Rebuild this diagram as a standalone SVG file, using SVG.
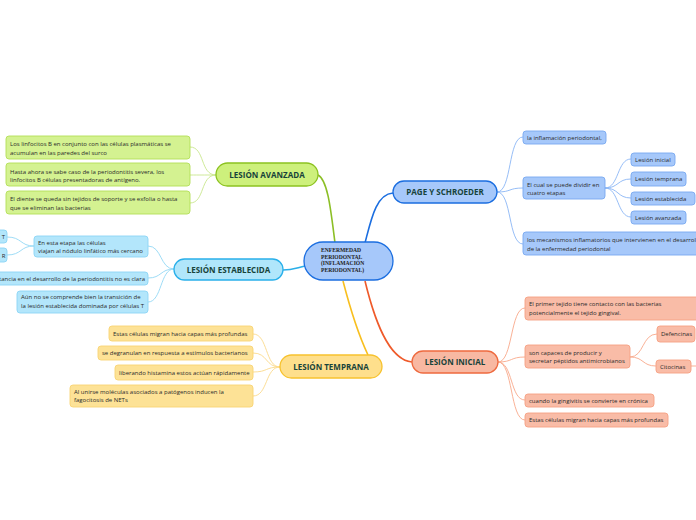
<svg xmlns="http://www.w3.org/2000/svg" width="696" height="520" viewBox="0 0 696 520">
<style>
text{font-family:"Open Sans","Noto Sans","Liberation Sans",sans-serif;fill:#2a2a2a;font-size:6px}
.t{font-weight:bold;font-size:8px;fill:#17433a;text-anchor:middle}
.c{font-family:"Liberation Serif","DejaVu Serif",serif;font-weight:bold;font-size:5.6px;fill:#222}
.main{fill:none;stroke-width:1.6}
.sub{fill:none;stroke-width:0.9}
.bl{fill:#a6c8fa;stroke:#1b6ee0;stroke-width:1.3}
.blc{fill:#a6c8fa;stroke:#78a8f0;stroke-width:0.9}
.gr{fill:#cdf07c;stroke:#8cc220;stroke-width:1.3}
.grc{fill:#d4f291;stroke:#b3df58;stroke-width:0.9}
.cy{fill:#b0e6fb;stroke:#2ab0ea;stroke-width:1.3}
.cyc{fill:#b3e6fb;stroke:#8cd5f5;stroke-width:0.9}
.ye{fill:#fedf8c;stroke:#f7c22e;stroke-width:1.3}
.yec{fill:#fde296;stroke:#f8d474;stroke-width:0.9}
.re{fill:#f8b8a2;stroke:#ee6a3f;stroke-width:1.3}
.rec{fill:#f9bca7;stroke:#f5a083;stroke-width:0.9}
</style>
<g id="connectors">
<path class="main" stroke="#8cbf26" d="M318,175 C328,180 331,212 335,243"/>
<path class="main" stroke="#1b6ee0" d="M393,193 C376,194 371,220 365,243"/>
<path class="main" stroke="#2aaee8" d="M283,270 C292,270 296,268 305,266"/>
<path class="main" stroke="#f8bf1f" d="M343,281 C350,308 360,338 368,355"/>
<path class="main" stroke="#ef5a2a" d="M365,281 C374,318 388,360 412,362"/>
<g stroke="#c8e68c" class="sub">
<path d="M216,175 C200,175 205,147 190,147"/>
<path d="M216,175 C203,175 200,175 190,175"/>
<path d="M216,175 C200,175 205,203 190,203"/>
</g>
<g stroke="#93d8f5" class="sub">
<path d="M174,269 C160,269 162,246 148,246"/>
<path d="M174,269 C160,269 162,278 148,278"/>
<path d="M174,269 C160,269 162,302 148,302"/>
<path d="M34,246 C20,246 22,237 7,237"/>
<path d="M34,246 C20,246 22,255 7,255"/>
</g>
<g stroke="#fbd98a" class="sub">
<path d="M280,367 C265,367 268,334 253,334"/>
<path d="M280,367 C265,367 268,353 253,353"/>
<path d="M280,367 C265,367 268,372 253,372"/>
<path d="M280,367 C265,367 268,396 253,396"/>
</g>
<g stroke="#8ab6f5" class="sub">
<path d="M497,192 C512,192 508,137 523,137"/>
<path d="M497,192 C512,192 508,188 523,188"/>
<path d="M497,192 C512,192 508,244 523,244"/>
<path d="M605,188 C619,188 617,159 631,159"/>
<path d="M605,188 C619,188 617,179 631,179"/>
<path d="M605,188 C619,188 617,198 631,198"/>
<path d="M605,188 C619,188 617,217 631,217"/>
</g>
<g stroke="#f8a88a" class="sub">
<path d="M498,362 C513,362 510,308 525,308"/>
<path d="M498,362 C513,362 510,357 525,357"/>
<path d="M498,362 C513,362 510,400 525,400"/>
<path d="M498,362 C513,362 510,420 525,420"/>
<path d="M630,357 C644,357 642,334 657,334"/>
<path d="M630,357 C644,357 642,366 656,366"/>
<path d="M691,366 L700,366"/>
</g>
</g>
<g id="center">
<rect class="bl" x="304" y="242" width="89" height="38" rx="19"/>
<text class="c" x="321" y="252">ENFERMEDAD</text>
<text class="c" x="321" y="258.7">PERIODONTAL</text>
<text class="c" x="321" y="265.4">(INFLAMACIÓN</text>
<text class="c" x="321" y="272.1">PERIODONTAL)</text>
</g>
<g id="avanzada">
<rect class="gr" x="216" y="163" width="102" height="23" rx="11.5"/>
<text class="t" x="267" y="177.8">LESIÓN AVANZADA</text>
</g>
<g id="av1"><rect class="grc" x="6" y="136" width="184" height="23" rx="3"/>
<text x="10" y="145.5">Los linfocitos B en conjunto con las células plasmáticas se</text>
<text x="10" y="154.5">acumulan en las paredes del surco</text></g>
<g id="av2"><rect class="grc" x="6" y="163" width="184" height="23" rx="3"/>
<text x="10" y="173.5">Hasta ahora se sabe  caso de la periodontitis severa, los</text>
<text x="10" y="182">linfocitos B células presentadoras de antígeno.</text></g>
<g id="av3"><rect class="grc" x="6" y="191" width="184" height="23" rx="3"/>
<text x="10" y="201">El diente se queda sin tejidos de soporte y se exfolia o hasta</text>
<text x="10" y="209.5">que se eliminan las bacterias</text></g>
<g id="establecida">
<rect class="cy" x="174" y="259" width="109" height="21" rx="10.5"/>
<text class="t" x="228.5" y="272.8">LESIÓN ESTABLECIDA</text>
</g>
<g id="es1"><rect class="cyc" x="34" y="236" width="114" height="21" rx="3"/>
<text x="38" y="244.5">En esta etapa las células</text>
<text x="38" y="253"> viajan al nódulo linfático más cercano</text></g>
<g id="es1a"><rect class="cyc" x="-30" y="230" width="37" height="13" rx="3"/>
<text x="5" y="239" text-anchor="end">T</text></g>
<g id="es1b"><rect class="cyc" x="-30" y="248" width="37" height="14" rx="3"/>
<text x="5.5" y="257.5" text-anchor="end">R</text></g>
<g id="es2"><rect class="cyc" x="-30" y="272" width="178" height="13" rx="3"/>
<text x="145" y="280.8" text-anchor="end">tancia en el desarrollo de la periodontitis no es clara</text></g>
<g id="es3"><rect class="cyc" x="17" y="291" width="131" height="22" rx="3"/>
<text x="21" y="299.2">Aún no se comprende bien la transición de</text>
<text x="21" y="308.3">la lesión establecida dominada por células T</text></g>
<g id="temprana">
<rect class="ye" x="280" y="355" width="102" height="23" rx="11.5"/>
<text class="t" x="331" y="369.8">LESIÓN TEMPRANA</text>
</g>
<g id="te1"><rect class="yec" x="109" y="326" width="144" height="15" rx="3"/>
<text x="113" y="335.8">Estas células migran hacia capas más profundas</text></g>
<g id="te2"><rect class="yec" x="98" y="346" width="155" height="14" rx="3"/>
<text x="102" y="355.3">se degranulan en respuesta a estímulos bacterianos</text></g>
<g id="te3"><rect class="yec" x="115" y="365" width="138" height="15" rx="3"/>
<text x="119" y="374.8">liberando histamina estos actúan rápidamente</text></g>
<g id="te4"><rect class="yec" x="70" y="385" width="183" height="22" rx="3"/>
<text x="74" y="393.7">Al unirse moléculas asociados a patógenos inducen la</text>
<text x="74" y="402.3">fagocitosis de NETs</text></g>
<g id="page">
<rect class="bl" x="393" y="181" width="104" height="22" rx="11"/>
<text class="t" x="445" y="195.3">PAGE Y SCHROEDER</text>
</g>
<g id="pa1"><rect class="blc" x="523" y="131" width="83" height="13" rx="3"/>
<text x="527" y="139.8">la inflamación periodontal,</text></g>
<g id="pa2"><rect class="blc" x="523" y="177" width="82" height="22" rx="3"/>
<text x="527" y="187">El cual se puede dividir en</text>
<text x="527" y="195.2">cuatro etapas</text></g>
<g id="pa2a"><rect class="blc" x="631" y="153" width="44" height="13" rx="3"/>
<text x="635" y="161.8">Lesión inicial</text></g>
<g id="pa2b"><rect class="blc" x="631" y="172" width="55" height="14" rx="3"/>
<text x="635" y="181.2">Lesión temprana</text></g>
<g id="pa2c"><rect class="blc" x="631" y="192" width="64" height="13" rx="3"/>
<text x="635" y="200.8">Lesión establecida</text></g>
<g id="pa2d"><rect class="blc" x="631" y="211" width="55" height="13" rx="3"/>
<text x="635" y="219.8">Lesión avanzada</text></g>
<g id="pa3"><rect class="blc" x="523" y="232" width="200" height="23" rx="3"/>
<text x="527" y="242">los mecanismos inflamatorios que intervienen en el desarrol</text>
<text x="527" y="250.5">de la enfermedad periodontal</text></g>
<g id="inicial">
<rect class="re" x="412" y="351" width="86" height="22" rx="11"/>
<text class="t" x="455" y="365.3">LESIÓN INICIAL</text>
</g>
<g id="in1"><rect class="rec" x="525" y="297" width="190" height="23" rx="3"/>
<text x="529" y="306">El primer tejido tiene contacto con las bacterias</text>
<text x="529" y="315.3">potencialmente el tejido gingival.</text></g>
<g id="in2"><rect class="rec" x="525" y="345" width="105" height="23" rx="3"/>
<text x="529" y="354.5">son capaces de producir y</text>
<text x="529" y="363"> secretar péptidos antimicrobianos</text></g>
<g id="in2a"><rect class="rec" x="657" y="326" width="38" height="16" rx="3"/>
<text x="661" y="336">Defencinas</text></g>
<g id="in2b"><rect class="rec" x="656" y="360" width="35" height="13" rx="3"/>
<text x="660" y="368.7">Citocinas</text></g>
<g id="in3"><rect class="rec" x="525" y="394" width="129" height="13" rx="3"/>
<text x="529" y="402.8">cuando la  gingivitis se convierte en crónica</text></g>
<g id="in4"><rect class="rec" x="525" y="413" width="143" height="14" rx="3"/>
<text x="529" y="422.2">Estas células migran hacia capas más profundas</text></g>
</svg>
